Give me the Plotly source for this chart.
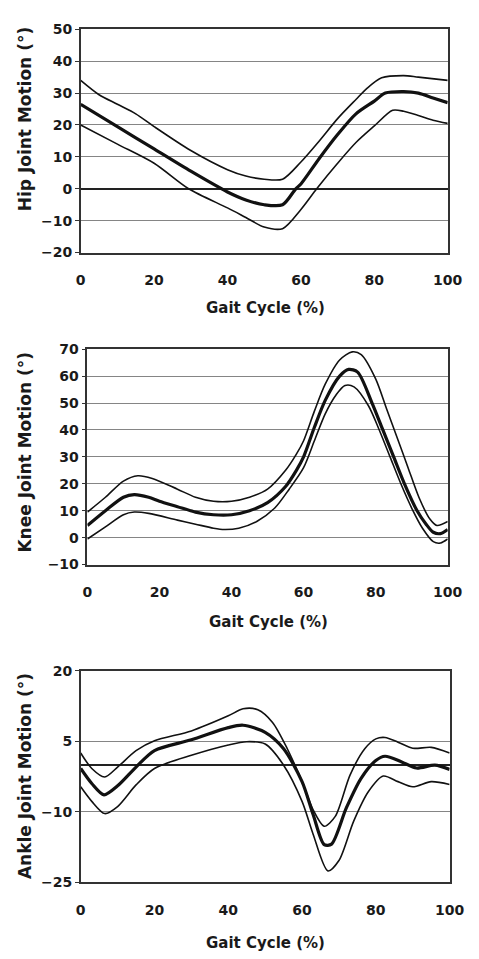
import plotly.graph_objects as go

# ---- Hip joint: gait cycle (%) vs angle (deg) ----
hip_x_mean = [0, 10, 20, 30, 40, 45, 50, 55, 58.6, 60, 65, 70, 75, 80, 83, 88, 92, 96, 100]
hip_mean = [26.5, 19.5, 12.5, 5.5, -1, -3.5, -5, -5, 0, 1.5, 9.5, 17, 23.5, 27.5, 30, 30.5, 30, 28.5, 27]
hip_x_upper = [0, 5, 10, 15, 20, 30, 40, 45, 50, 55, 60, 65, 70, 75, 78, 82, 88, 92, 100]
hip_upper = [34, 29.5, 26.5, 23.5, 19.5, 12, 6, 4, 3, 3, 8.4, 15, 22, 28, 31.5, 34.8, 35.5, 35, 34]
hip_x_lower = [0, 10, 20, 29.4, 40, 45, 50, 55, 60, 64.3, 70, 75, 80, 85, 88, 92, 96, 100]
hip_lower = [20, 14, 8, 0, -6, -9, -12, -12.5, -6.5, 0, 8, 14.5, 19.7, 24.6, 24.3, 23, 21.5, 20.5]

# ---- Knee joint ----
knee_x_mean = [0, 5, 10, 13, 17, 20, 25, 30, 35, 40, 45, 50, 55, 58, 60, 63, 66, 70, 72.5, 75, 79, 82, 85, 88, 91.5, 94, 96, 98, 100]
knee_mean = [4.5, 10, 15, 16, 15, 13.5, 11.5, 9.5, 8.5, 8.5, 10, 13, 19, 25, 30, 41, 51, 60, 62.5, 61.5, 50, 40, 30, 20, 10, 5, 2, 1.5, 3]
knee_x_upper = [0, 5, 10, 14, 18, 25, 30, 35, 40, 45, 50, 55, 58, 60, 63, 66, 70, 73.5, 76, 80, 83, 86, 89, 92, 95, 97, 100]
knee_upper = [9.5, 15, 21, 23, 22, 18, 15, 13.5, 13.5, 15, 18, 25, 31, 36, 47, 57, 66, 69, 68, 59, 48, 37, 26, 15, 7, 4.5, 6]
knee_x_lower = [0, 5, 10, 13, 17, 25, 30, 35, 38, 42, 47, 52, 56, 60, 63, 66, 69, 71.5, 74, 78, 81, 84, 87, 90, 93, 96, 98, 100]
knee_lower = [-0.5, 4, 8.5, 9.5, 9, 6.5, 5, 3.5, 3, 3.5, 6, 11, 18, 26, 36, 46, 53, 56.5, 56, 49, 40, 30, 20, 11, 3.5, -1.5, -2, -0.5]

# ---- Ankle joint ----
ankle_x_mean = [0, 3, 6.3, 10, 15, 20, 30, 40, 44, 50, 55, 60, 63, 66, 68, 72, 76, 80, 82.5, 87, 91, 96, 100]
ankle_mean = [-0.8, -4, -6.4, -4.5, -0.5, 3, 5.3, 7.9, 8.4, 6.9, 3.4, -3.6, -10.6, -17, -16.9, -9.2, -2.9, 0.9, 1.8, 0.6, -0.7, -0.1, -1.0]
ankle_x_upper = [0, 3, 6.5, 10, 15, 20, 30, 40, 44, 48, 52, 56, 60, 63, 66, 69, 73, 77, 80, 82.5, 86, 90, 95, 100]
ankle_upper = [2.5, -0.8, -2.6, -0.5, 3, 5.1, 7.2, 10.4, 11.9, 11.7, 9, 3.4, -3.6, -9.6, -13.1, -11, -2.2, 3.4, 5.5, 5.8, 4.8, 3.5, 3.7, 2.5]
ankle_x_lower = [0, 3, 6.5, 10, 15, 20, 30, 40, 45, 50, 55, 60, 63, 67, 70, 74, 78, 82, 86, 90, 95, 100]
ankle_lower = [-4.7, -7.8, -10.4, -8.9, -4.3, -0.8, 2.0, 4.2, 4.9, 4.4, -0.1, -7.8, -14.8, -22.6, -20.4, -12, -5.7, -2.4, -3.6, -4.7, -3.6, -4.2]

x_ticks = [0, 20, 40, 60, 80, 100]
x_title = "Gait Cycle (%)"
y_titles = ["Hip Joint Motion (°)", "Knee Joint Motion (°)", "Ankle Joint Motion (°)"]

W, H = 479, 959
FONT = "DejaVu Sans"
INK = "#1a1a1a"

panels = [
    # (x/y of mean, upper, lower bands, y range, dtick, tick0, pixel box (l, r, t, b),
    #  dark zero line, y-title centre, x-title centre x, x-title y)
    (hip_x_mean, hip_mean, hip_x_upper, hip_upper, hip_x_lower, hip_lower,
     [-20, 50], 10, -20, (79, 462, 21.7, 248.7), True, 113, 272, 305),
    (knee_x_mean, knee_mean, knee_x_upper, knee_upper, knee_x_lower, knee_lower,
     [-10, 70], 10, -10, (86, 462, 347, 566), False, 452, 275, 624),
    (ankle_x_mean, ankle_mean, ankle_x_upper, ankle_upper, ankle_x_lower, ankle_lower,
     [-25, 20], 15, -25, (79, 464, 674, 889), True, 781, 272, 951),
]

fig = go.Figure()
annotations = []
layout_axes = {}

for i, (xm, ym, xu, yu, xl, yl, yr, dt, t0, box, darkzero, ytc, xtc, xty) in enumerate(panels):
    n = "" if i == 0 else str(i + 1)
    xa, ya = "x" + n, "y" + n
    l, r, t, b = box
    for xs, ys, w in ((xu, yu, 1.6), (xl, yl, 1.6), (xm, ym, 3.2)):
        fig.add_trace(go.Scatter(
            x=xs, y=ys, mode="lines", xaxis=xa, yaxis=ya,
            line=dict(color="#111111", width=w, shape="spline", smoothing=0.8),
            showlegend=False, hoverinfo="skip"))
    layout_axes["xaxis" + n] = dict(
        domain=[l / W, r / W], range=[0, 100], tickvals=x_ticks, anchor=ya,
        showgrid=False, zeroline=False, showline=True, linecolor="#333333",
        linewidth=1.5, mirror=True, ticks="", ticklabelstandoff=14,
        tickfont=dict(family=FONT, size=14, color=INK, weight="bold"))
    layout_axes["yaxis" + n] = dict(
        domain=[1 - b / H, 1 - t / H], range=yr, dtick=dt, tick0=t0, anchor=xa,
        showgrid=True, gridcolor="#858585", gridwidth=1.2,
        zeroline=darkzero, zerolinecolor="#222222", zerolinewidth=1.5,
        showline=True, linecolor="#333333", linewidth=1.5, mirror=True,
        ticks="outside", ticklen=4, tickcolor="#333333",
        tickfont=dict(family=FONT, size=14, color=INK, weight="bold"))
    annotations.append(dict(
        text=y_titles[i], xref="paper", yref="paper", x=21 / W, y=1 - ytc / H,
        textangle=-90, showarrow=False, xanchor="center", yanchor="middle",
        font=dict(family=FONT, size=17, color=INK, weight="bold")))
    annotations.append(dict(
        text=x_title, xref="paper", yref="paper", x=xtc / W, y=1 - xty / H,
        showarrow=False, xanchor="center", yanchor="middle",
        font=dict(family=FONT, size=15, color=INK, weight="bold")))

fig.update_layout(
    width=W, height=H, margin=dict(l=0, r=0, t=0, b=0),
    paper_bgcolor="white", plot_bgcolor="white",
    annotations=annotations, **layout_axes)

fig.write_html("out.html")
